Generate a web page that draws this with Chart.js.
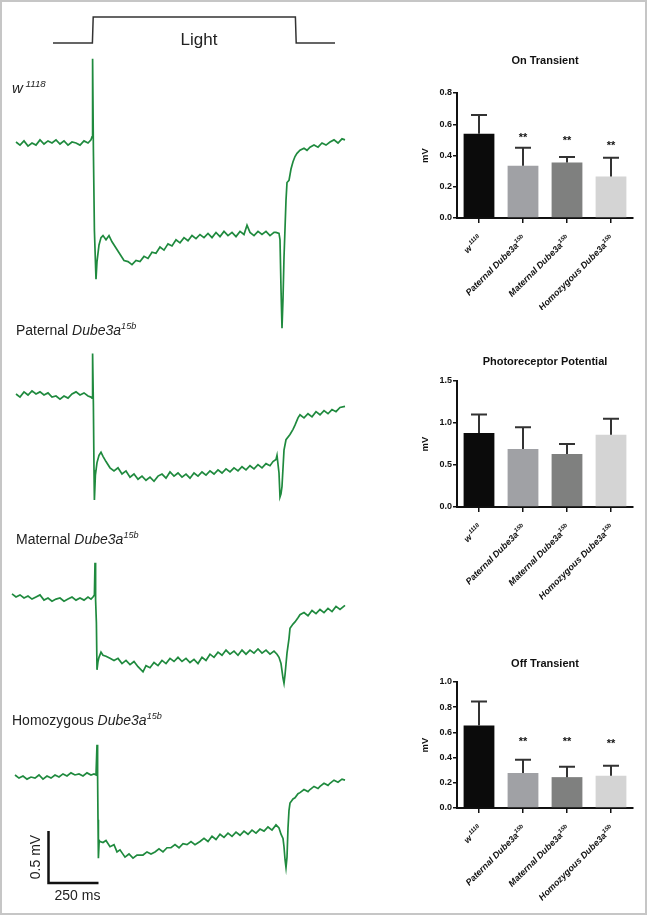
<!DOCTYPE html>
<html>
<head>
<meta charset="utf-8">
<script src="https://cdn.jsdelivr.net/npm/chart.js@4.4.0/dist/chart.umd.min.js"></script>
<style>
  html, body { margin: 0; padding: 0; background: #fff; }
  #page { position: relative; width: 647px; height: 916px; overflow: hidden; }
  #page canvas { position: absolute; }
  #frame { position: absolute; left: 0; top: 0; width: 647px; height: 915px; box-sizing: border-box; border: 2px solid #c6c6c6; pointer-events: none; }
</style>
</head>
<body>
<div id="page">
  <canvas id="traces" width="370" height="916" style="left:0px;top:0px"></canvas>
  <canvas id="onChart" width="247" height="270" style="left:400px;top:40px"></canvas>
  <canvas id="prChart" width="247" height="270" style="left:400px;top:330px"></canvas>
  <canvas id="offChart" width="247" height="270" style="left:400px;top:640px"></canvas>
  <div id="frame"></div>
</div>
<script>
// ERG traces: time in ms from light onset, voltage in mV relative to pre-light baseline
const wTime = [-380,-360,-340,-320,-300,-280,-260,-240,-220,-200,-180,-160,-140,-120,-100,-80,-60,-40,-20,-5,
  0,3,7,12,20,25,35,45,55,70,85,
  100,120,140,160,180,200,220,240,260,280,300,320,340,360,380,400,420,440,460,480,500,520,540,560,580,600,620,640,660,680,700,720,740,760,
  775,790,810,830,850,870,890,910,
  920,935,940,945,950,955,960,970,975,985,995,1005,1015,1025,1040,1060,1075,1090,1110,1130,1150,1170,1190,1210,1230,1250,1265];
const wVolt = [0.01,-0.02,0.02,-0.03,0.00,-0.02,0.03,-0.01,0.02,0.00,0.03,-0.01,0.02,-0.02,0.01,0.00,-0.02,0.02,0.00,0.03,
  0.06,0.81,-0.07,-0.84,-1.31,-1.14,-0.98,-0.91,-0.89,-0.93,-0.89,
  -0.95,-1.01,-1.07,-1.13,-1.14,-1.17,-1.13,-1.14,-1.09,-1.11,-1.05,-1.06,-1.00,-1.03,-0.97,-0.99,-0.93,-0.96,-0.91,-0.94,-0.89,-0.92,-0.88,-0.91,-0.87,-0.91,-0.86,-0.90,-0.85,-0.89,-0.86,-0.90,-0.85,-0.88,
  -0.79,-0.86,-0.89,-0.85,-0.88,-0.85,-0.89,-0.86,
  -0.86,-0.87,-0.93,-1.40,-1.78,-1.50,-1.10,-0.55,-0.38,-0.36,-0.25,-0.18,-0.13,-0.10,-0.07,-0.05,-0.07,-0.04,-0.02,-0.04,0.00,-0.02,0.01,0.03,0.00,0.04,0.03];

const patTime = [-380,-360,-340,-320,-300,-280,-260,-240,-220,-200,-180,-160,-140,-120,-100,-80,-60,-40,-20,-5,
  0,3,7,10,12,17,25,35,45,55,70,90,
  110,130,150,170,190,210,230,250,270,290,310,330,350,370,390,410,430,450,470,490,510,530,550,570,590,610,630,650,670,690,710,730,750,770,790,810,830,850,870,890,
  905,920,925,935,940,945,950,960,970,990,1005,1015,1030,1040,1060,1080,1100,1120,1140,1160,1180,1200,1220,1240,1265];
const patVolt = [0.01,-0.02,0.03,0.00,0.04,0.01,0.03,0.00,0.02,-0.02,-0.01,-0.04,-0.01,-0.03,0.01,0.03,0.00,0.02,-0.01,-0.02,
  -0.03,0.40,-0.10,-0.72,-1.01,-0.77,-0.65,-0.58,-0.55,-0.59,-0.64,-0.70,
  -0.73,-0.70,-0.76,-0.73,-0.79,-0.76,-0.81,-0.78,-0.82,-0.79,-0.83,-0.78,-0.76,-0.80,-0.74,-0.78,-0.75,-0.79,-0.76,-0.80,-0.75,-0.78,-0.74,-0.77,-0.73,-0.76,-0.72,-0.75,-0.71,-0.74,-0.70,-0.73,-0.69,-0.72,-0.68,-0.71,-0.67,-0.70,-0.66,-0.68,
  -0.64,-0.62,-0.58,-0.75,-0.98,-0.95,-0.88,-0.53,-0.43,-0.38,-0.33,-0.29,-0.22,-0.19,-0.22,-0.18,-0.21,-0.16,-0.19,-0.15,-0.18,-0.14,-0.16,-0.12,-0.11];

const matTime = [-400,-380,-360,-340,-320,-300,-280,-260,-240,-220,-200,-180,-160,-140,-120,-100,-80,-60,-40,-20,-5,
  5,12,15,18,22,25,30,35,45,55,70,90,
  110,130,150,170,190,210,230,255,270,290,310,330,350,370,390,410,430,450,470,490,510,530,550,570,590,610,630,650,670,690,710,730,750,770,790,810,830,850,870,890,910,
  925,935,945,955,960,965,975,985,990,1005,1015,1030,1040,1060,1080,1100,1120,1140,1160,1180,1200,1220,1240,1265];
const matVolt = [0.03,0.00,0.02,-0.01,0.01,-0.02,0.00,0.02,-0.03,-0.01,-0.04,-0.02,-0.01,-0.04,-0.02,0.00,-0.03,-0.01,-0.03,0.00,-0.02,
  0.00,0.02,0.33,-0.03,-0.25,-0.70,-0.62,-0.58,-0.53,-0.56,-0.57,-0.59,
  -0.61,-0.59,-0.64,-0.61,-0.65,-0.62,-0.67,-0.72,-0.66,-0.68,-0.63,-0.66,-0.61,-0.64,-0.59,-0.62,-0.58,-0.62,-0.59,-0.63,-0.60,-0.64,-0.58,-0.61,-0.55,-0.58,-0.53,-0.56,-0.51,-0.55,-0.52,-0.56,-0.51,-0.55,-0.51,-0.54,-0.50,-0.54,-0.51,-0.55,-0.52,
  -0.55,-0.58,-0.64,-0.78,-0.83,-0.75,-0.54,-0.40,-0.30,-0.26,-0.24,-0.20,-0.17,-0.15,-0.18,-0.13,-0.16,-0.12,-0.15,-0.11,-0.14,-0.09,-0.12,-0.08];

const homTime = [-385,-365,-345,-325,-305,-285,-265,-245,-225,-205,-185,-165,-145,-125,-105,-85,-65,-45,-25,-5,10,20,
  25,28,30,32,36,40,55,70,90,110,125,140,165,185,205,225,255,275,295,315,335,355,375,395,415,435,455,475,495,515,
  540,560,580,600,620,640,660,680,700,720,740,760,780,800,820,840,860,880,900,920,
  935,945,955,960,965,970,975,980,985,990,1005,1015,1030,1040,1060,1080,1090,1110,1130,1140,1160,1180,1190,1210,1230,1250,1265];
const homVolt = [0.01,-0.02,0.00,-0.03,-0.01,-0.02,0.01,-0.03,0.00,-0.02,0.01,-0.01,0.02,0.00,0.03,0.01,0.02,0.00,0.03,0.01,0.02,0.01,
  0.30,0.00,-0.42,-0.79,-0.62,-0.63,-0.64,-0.62,-0.68,-0.66,-0.73,-0.71,-0.78,-0.75,-0.79,-0.76,-0.76,-0.73,-0.75,-0.73,-0.70,-0.73,-0.69,-0.69,-0.66,-0.69,-0.65,-0.66,-0.63,-0.66,
  -0.63,-0.60,-0.63,-0.58,-0.61,-0.56,-0.59,-0.55,-0.58,-0.54,-0.57,-0.53,-0.56,-0.52,-0.55,-0.51,-0.53,-0.49,-0.52,-0.47,
  -0.50,-0.56,-0.60,-0.68,-0.80,-0.88,-0.78,-0.50,-0.33,-0.26,-0.22,-0.21,-0.17,-0.16,-0.13,-0.15,-0.13,-0.10,-0.12,-0.10,-0.07,-0.09,-0.07,-0.04,-0.06,-0.03,-0.04];

// light stimulus (0 = off, 1 = on)
const stimTime = [-195, 2, 6, 1017, 1021, 1215];
const stimLevel = [0, 0, 1, 1, 0, 0];

// bar charts
const genotypes = ['w', 'Paternal', 'Maternal', 'Homozygous'];
const allele = ['1118', '15b', '15b', '15b'];
const onMean = [0.54, 0.335, 0.355, 0.265];
const onSem = [0.12, 0.115, 0.035, 0.12];
const onSig = ['', '**', '**', '**'];
const onSigY = [null, 0.53, 0.51, 0.48];
const prMean = [0.88, 0.69, 0.63, 0.86];
const prSem = [0.22, 0.26, 0.12, 0.19];
const offMean = [0.655, 0.278, 0.245, 0.256];
const offSem = [0.19, 0.105, 0.083, 0.08];
const offSig = ['', '**', '**', '**'];
const offSigY = [null, 0.548, 0.548, 0.534];

const barColors = ['#0b0b0b', '#a0a1a5', '#7f807f', '#d4d4d4'];
const GREEN = '#1f8a3e';
const FONT = '"Liberation Sans", Arial, Helvetica, sans-serif';

// draw a run of text pieces, some of them superscript
function drawRich(ctx, parts, x, y, align, size, weight) {
    const fonts = parts.map(p => `${p.italic ? 'italic ' : ''}${weight || ''} ${p.sup ? size * 0.65 : size}px ${FONT}`);
    let total = 0;
    parts.forEach((p, i) => { ctx.font = fonts[i]; total += ctx.measureText(p.text).width; });
    let cx = align === 'right' ? x - total : align === 'center' ? x - total / 2 : x;
    ctx.textAlign = 'left';
    ctx.textBaseline = 'alphabetic';
    parts.forEach((p, i) => {
        ctx.font = fonts[i];
        ctx.fillText(p.text, cx, p.sup ? y - size * 0.42 : y);
        cx += ctx.measureText(p.text).width;
    });
}

function genotypeParts(i, italicPrefix) {
    if (i === 0) return [{ text: 'w', italic: true }, { text: ' ' + allele[0], italic: true, sup: true }];
    return [{ text: genotypes[i] + ' ', italic: italicPrefix }, { text: 'Dube3a', italic: true }, { text: allele[i], italic: true, sup: true }];
}

// ---------- left panel: traces ----------
const PX_PER_MV = 104;      // 0.5 mV = 52 px
const PX_PER_MS = 0.2;      // 250 ms = 50 px
const LEFT_MS = -460;       // time at the left edge of the panel
const traceRows = [143, 395, 597, 776];  // baseline pixel row of each trace
const STIM_LOW = 43, STIM_HIGH = 17;

const traceSets = [[wTime, wVolt], [patTime, patVolt], [matTime, matVolt], [homTime, homVolt]];

const traceDatasets = traceSets.map(([t, v], k) => ({
    data: t.map((ms, i) => ({ x: ms, y: v[i] - traceRows[k] / PX_PER_MV })),
    borderColor: GREEN,
    borderWidth: 1.7,
    pointRadius: 0,
    tension: 0,
    fill: false
}));

traceDatasets.push({
    data: stimTime.map((ms, i) => ({ x: ms, y: -(STIM_LOW - stimLevel[i] * (STIM_LOW - STIM_HIGH)) / PX_PER_MV })),
    borderColor: '#333',
    borderWidth: 1.5,
    pointRadius: 0,
    tension: 0,
    fill: false
});

const traceLabels = {
    id: 'traceLabels',
    afterDraw(chart) {
        const ctx = chart.ctx;
        const xs = chart.scales.x, ys = chart.scales.y;
        ctx.save();
        ctx.fillStyle = '#222';
        ctx.font = `17px ${FONT}`;
        ctx.textAlign = 'center';
        ctx.textBaseline = 'middle';
        ctx.fillText('Light', 199, 40);

        drawRich(ctx, [{ text: 'w', italic: true }, { text: ' 1118', italic: true, sup: true }], 12, 93, 'left', 15);
        drawRich(ctx, genotypeParts(1, false), 16, 335, 'left', 14);
        drawRich(ctx, genotypeParts(2, false), 16, 544, 'left', 14);
        drawRich(ctx, genotypeParts(3, false), 12, 725, 'left', 14);

        // scale bar sized through the chart scales
        const barX = 48.5, barY = 883;
        const w250 = xs.getPixelForValue(250) - xs.getPixelForValue(0);
        const h05 = ys.getPixelForValue(0) - ys.getPixelForValue(0.5);
        ctx.strokeStyle = '#111';
        ctx.lineWidth = 2.5;
        ctx.beginPath();
        ctx.moveTo(barX, barY - h05);
        ctx.lineTo(barX, barY);
        ctx.lineTo(barX + w250, barY);
        ctx.stroke();
        ctx.font = `14px ${FONT}`;
        ctx.textAlign = 'center';
        ctx.textBaseline = 'alphabetic';
        ctx.fillText('250 ms', barX + w250 / 2 + 4, 900);
        ctx.translate(40, barY - h05 / 2);
        ctx.rotate(-Math.PI / 2);
        ctx.fillText('0.5 mV', 0, 0);
        ctx.restore();
    }
};

new Chart(document.getElementById('traces'), {
    type: 'line',
    data: { datasets: traceDatasets },
    options: {
        responsive: false,
        animation: false,
        layout: { padding: 0 },
        plugins: { legend: { display: false }, tooltip: { enabled: false } },
        scales: {
            x: { type: 'linear', display: false, min: LEFT_MS, max: LEFT_MS + 370 / PX_PER_MS },
            y: { type: 'linear', display: false, min: -916 / PX_PER_MV, max: 0 }
        }
    },
    plugins: [traceLabels]
});

// ---------- right panel: bar charts ----------
function barDecorations(spec) {
    return {
        id: 'barDeco',
        afterDatasetsDraw(chart) {
            const ctx = chart.ctx;
            const xs = chart.scales.x, ys = chart.scales.y;
            const area = chart.chartArea;
            ctx.save();
            // upper error bars
            ctx.strokeStyle = '#333';
            ctx.lineWidth = 2;
            spec.means.forEach((m, i) => {
                const x = xs.getPixelForValue(i);
                const yTop = ys.getPixelForValue(m + spec.sems[i]);
                const yBar = ys.getPixelForValue(m);
                ctx.beginPath();
                ctx.moveTo(x, yBar);
                ctx.lineTo(x, yTop);
                ctx.moveTo(x - 8, yTop);
                ctx.lineTo(x + 8, yTop);
                ctx.stroke();
            });
            ctx.fillStyle = '#111';
            // significance marks
            if (spec.sig) {
                ctx.font = `bold 11px ${FONT}`;
                ctx.textAlign = 'center';
                ctx.textBaseline = 'alphabetic';
                spec.sig.forEach((s, i) => {
                    if (!s) return;
                    ctx.fillText(s, xs.getPixelForValue(i), ys.getPixelForValue(spec.sigY[i]) + 6);
                });
            }
            // title
            ctx.font = `bold 11px ${FONT}`;
            ctx.textAlign = 'center';
            ctx.textBaseline = 'middle';
            ctx.fillText(spec.title, (area.left + area.right) / 2, spec.titleY - spec.canvasTop);
            // y axis title
            ctx.save();
            ctx.translate(25, (area.top + area.bottom) / 2);
            ctx.rotate(-Math.PI / 2);
            ctx.font = `bold 9.5px ${FONT}`;
            ctx.fillText('mV', 0, 0);
            ctx.restore();
            // rotated category labels
            genotypes.forEach((g, i) => {
                ctx.save();
                ctx.translate(xs.getPixelForValue(i) + 1, area.bottom + 19);
                ctx.rotate(-Math.PI / 4);
                drawRich(ctx, genotypeParts(i, true), 0, 3, 'right', 9, 'bold');
                ctx.restore();
            });
            ctx.restore();
        }
    };
}

function makeBarChart(id, spec) {
    const xAxisHeight = spec.canvasTop + 270 - spec.plotBottom;
    return new Chart(document.getElementById(id), {
        type: 'bar',
        data: {
            labels: genotypes,
            datasets: [{
                data: spec.means,
                backgroundColor: barColors,
                borderWidth: 0,
                barPercentage: 0.7,
                categoryPercentage: 1.0
            }]
        },
        options: {
            responsive: false,
            animation: false,
            layout: { padding: { top: spec.plotTop - spec.canvasTop, right: 14, left: 0, bottom: 0 } },
            plugins: { legend: { display: false }, tooltip: { enabled: false } },
            scales: {
                x: {
                    grid: { display: true, drawOnChartArea: false, drawTicks: true, tickLength: 5, offset: false, color: '#111', lineWidth: 1.5 },
                    border: { display: true, color: '#111', width: 2 },
                    ticks: { display: false },
                    afterFit: s => { s.height = xAxisHeight; }
                },
                y: {
                    min: 0,
                    max: spec.max,
                    grid: { display: true, drawOnChartArea: false, drawTicks: true, tickLength: 4, color: '#111', lineWidth: 1.5 },
                    border: { display: true, color: '#111', width: 2 },
                    ticks: {
                        stepSize: spec.step,
                        padding: 1,
                        color: '#111',
                        font: { family: FONT, size: 9, weight: 'bold' },
                        callback: v => v.toFixed(1)
                    },
                    afterFit: s => { s.width = 57; }
                }
            }
        },
        plugins: [barDecorations(spec)]
    });
}

makeBarChart('onChart', {
    title: 'On Transient', means: onMean, sems: onSem, sig: onSig, sigY: onSigY,
    max: 0.8, step: 0.2, canvasTop: 40, plotTop: 93, plotBottom: 218, titleY: 61
});
makeBarChart('prChart', {
    title: 'Photoreceptor Potential', means: prMean, sems: prSem,
    max: 1.5, step: 0.5, canvasTop: 330, plotTop: 381, plotBottom: 507, titleY: 362
});
makeBarChart('offChart', {
    title: 'Off Transient', means: offMean, sems: offSem, sig: offSig, sigY: offSigY,
    max: 1.0, step: 0.2, canvasTop: 640, plotTop: 682, plotBottom: 808, titleY: 664
});
</script>
</body>
</html>
